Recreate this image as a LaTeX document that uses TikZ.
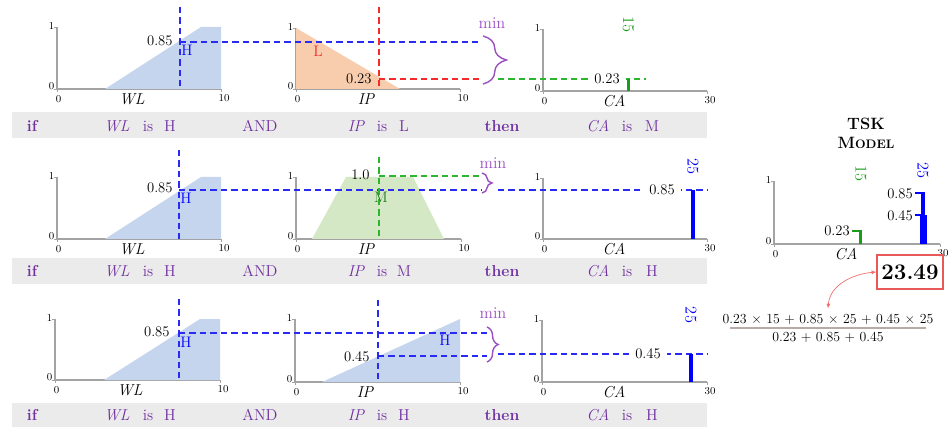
\documentclass[tikz,border=0pt]{standalone}
\usepackage{fontspec}
\usetikzlibrary{decorations.pathreplacing,arrows.meta}
\definecolor{axg}{HTML}{A3A3A3}
\definecolor{dblue}{HTML}{2A2AF5}
\definecolor{bblue}{HTML}{0000FF}
\definecolor{dred}{HTML}{F52A2A}
\definecolor{dgreen}{HTML}{2DB52D}
\definecolor{bgreen}{HTML}{1C9C1C}
\definecolor{tgreen}{HTML}{237A23}
\definecolor{fblue}{HTML}{C6D5EE}
\definecolor{forange}{HTML}{F8CDAD}
\definecolor{fgreen}{HTML}{D4E8C6}
\definecolor{purp}{HTML}{7030A0}
\definecolor{mpurp}{HTML}{9A50C2}
\definecolor{bandc}{HTML}{EBEBEB}
\definecolor{fracbar}{HTML}{B8ABA6}
\definecolor{boxred}{HTML}{E85A5A}
\definecolor{arrred}{HTML}{F07070}
\tikzset{
  axisline/.style={draw=axg,line width=1.1pt},
  ticklab/.style={font=\fontsize{9}{9}\selectfont, inner sep=0.5pt},
  axlab/.style={font=\itshape\fontsize{13.5}{14}\selectfont, inner sep=0.5pt},
  dline/.style={line width=1.3pt, dash pattern=on 5.5pt off 3.4pt},
  val/.style={font=\fontsize{12.5}{13}\selectfont, inner sep=1pt},
  gapval/.style={val, fill=white, inner xsep=5pt, inner ysep=1pt},
  mfl/.style={font=\fontsize{13}{13}\selectfont, inner sep=0.5pt},
  rt/.style={font=\fontsize{13.5}{14}\selectfont, text=purp, inner sep=0.5pt},
  rtb/.style={rt, font=\bfseries\fontsize{13.5}{14}\selectfont},
  rti/.style={rt, font=\itshape\fontsize{13.5}{14}\selectfont},
  minlab/.style={font=\fontsize{14}{14}\selectfont, text=mpurp, inner sep=0.5pt},
  bracel/.style={draw=mpurp, line width=1.2pt, decorate},
  rotv/.style={font=\fontsize{14}{14}\selectfont, rotate=-90, inner sep=0.5pt},
}
% #1 x0, #2 ytop, #3 x1, #4 ybot, #5 max label, #6 axis label, #7 label x, #8 name prefix
\newcommand\fzaxes[8]{%
  \draw[axisline] (#1,#2) -- (#1,#4) -- (#3,#4);
  \draw[axg,line width=0.7pt] (#1-3,#2) -- (#1,#2) (#1-3,#4) -- (#1,#4) (#1,#4) -- (#1,#4+3) (#3,#4) -- (#3,#4+3);
  \node[ticklab,anchor=east] (#8-one) at (#1-2,#2-1.5) {1};
  \node[ticklab,anchor=east] (#8-zero) at (#1-2,#4-2.5) {0};
  \node[ticklab] (#8-xmin) at (#1+1.5,#4+10) {0};
  \node[ticklab] (#8-xmax) at (#3+3,#4+9.5) {#5};
  \node[axlab] (#8-lab) at (#7,#4+10.5) {#6};
}
% rule band text: #1 y, #2 WL term, #3 IP term, #4 CA term, #5 prefix
\newcommand\ruletext[5]{%
  \node[rtb] (#5-if) at (32,#1) {if};
  \node[rti] (#5-wl) at (117,#1) {WL};
  \node[rt] (#5-is1) at (148,#1) {is};
  \node[rt] (#5-t1) at (170,#1) {#2};
  \node[rt] (#5-and) at (260,#1) {AND};
  \node[rti] (#5-ip) at (356,#1) {IP};
  \node[rt] (#5-is2) at (382,#1) {is};
  \node[rt] (#5-t2) at (404,#1) {#3};
  \node[rtb] (#5-then) at (502,#1) {then};
  \node[rti] (#5-ca) at (598,#1) {CA};
  \node[rt] (#5-is3) at (627,#1) {is};
  \node[rt] (#5-t3) at (652,#1) {#4};
}
\begin{document}
\begin{tikzpicture}[x=0.03cm,y=-0.03cm]
\useasboundingbox (0,0) rectangle (948,427);

% ---------- rule bands ----------
\fill[bandc] (12,112) rectangle (707,138);
\fill[bandc] (12,258) rectangle (707,284);
\fill[bandc] (12,403) rectangle (707,427);
\ruletext{126}{H}{L}{M}{r1}
\ruletext{271}{H}{M}{H}{r2}
\ruletext{415}{H}{H}{H}{r3}

% ================= ROW 1 =================
\fzaxes{57}{27}{221}{89}{10}{WL}{132}{a1}
\fill[fblue] (105,89) -- (201,27) -- (221,27) -- (221,89) -- cycle;
\fzaxes{296}{28}{460}{89}{10}{IP}{366}{b1}
\fill[forange] (296,28) -- (400,89) -- (296,89) -- cycle;
\fzaxes{543}{29}{707}{91}{30}{CA}{614}{c1}

\draw[dblue,dline] (180,7) -- (180,89);
\draw[dblue,dline] (180,42) -- (482,42);
\draw[dred,dline] (379,7) -- (379,89);
\draw[dred,dline] (379,79) -- (482,79);
\node[val,anchor=east] (a1v) at (174,41) {0.85};
\node[mfl,text=bblue] (a1m) at (187,50) {H};
\node[val,anchor=east] (b1v) at (373,79) {0.23};
\node[mfl,text=dred] (b1m) at (318,51) {L};
\draw[bracel,decoration={brace,amplitude=20pt}] (483,36) -- (483,84);
\node[minlab] (min1) at (492,23) {min};
\draw[dgreen,dline] (498,79) -- (646,79);
\node[gapval] (c1v) at (607,79) {0.23};
\draw[bgreen,line width=2.8pt] (628.5,79) -- (628.5,91);
\node[rotv,text=bgreen] (c1r) at (628.5,25) {15};

% ================= ROW 2 =================
\fzaxes{57}{177}{221}{239}{10}{WL}{132}{a2}
\fill[fblue] (105,239) -- (201,177) -- (221,177) -- (221,239) -- cycle;
\fzaxes{296}{177}{461}{239}{10}{IP}{366}{b2}
\fill[fgreen] (312,239) -- (346,177) -- (413,177) -- (444,239) -- cycle;
\fzaxes{543}{178}{707}{239}{30}{CA}{614}{c2}

\draw[dblue,dline] (179,150) -- (179,239);
\draw[dblue,dline] (179,190) -- (482,190);
\draw[dgreen,dline] (379,157) -- (379,239);
\draw[dgreen,dline] (379,176) -- (482,176);
\node[val,anchor=east] (a2v) at (174,188) {0.85};
\node[mfl,text=bblue] (a2m) at (186,198) {H};
\node[val,anchor=east] (b2v) at (371,175) {1.0};
\node[mfl,text=tgreen] (b2m) at (381,197) {M};
\draw[bracel,decoration={brace,amplitude=8.5pt}] (482,173) -- (482,193);
\node[minlab] (min2) at (493,163) {min};
\draw[dblue,dline] (498,190) -- (707,190);
\node[gapval] (c2v) at (662,190) {0.85};
\draw[bblue,line width=3.4pt] (693,190) -- (693,239);
\node[rotv,text=bblue] (c2r) at (693,167) {25};

% ================= ROW 3 =================
\fzaxes{55}{319}{220}{380}{10}{WL}{130}{a3}
\fill[fblue] (104,380) -- (200,319) -- (220,319) -- (220,380) -- cycle;
\fzaxes{295}{319}{460}{382}{10}{IP}{365}{b3}
\fill[fblue] (322,382) -- (460,319) -- (460,382) -- cycle;
\fzaxes{542}{320}{707}{382}{30}{CA}{614}{c3}

\draw[dblue,dline] (179,299) -- (179,380);
\draw[dblue,dline] (179,333) -- (487,333);
\draw[dblue,dline] (378,300) -- (378,382);
\draw[dblue,dline] (378,356) -- (487,356);
\node[val,anchor=east] (a3v) at (171,332) {0.85};
\node[mfl,text=bblue] (a3m) at (186,342) {H};
\node[val,anchor=east] (b3v) at (371,357) {0.45};
\node[mfl,text=bblue] (b3m) at (445,340) {H};
\draw[bracel,decoration={brace,amplitude=9.5pt}] (487,327) -- (487,362);
\node[minlab] (min3) at (493,313) {min};
\draw[dblue,dline] (498,354) -- (707,354);
\node[gapval] (c3v) at (648,354) {0.45};
\draw[bblue,line width=3.4pt] (691,354) -- (691,382);
\node[rotv,text=bblue] (c3r) at (691,315) {25};

% ================= TSK MODEL =================
\node[font=\bfseries\fontsize{14}{14}\selectfont, inner sep=0.5pt] (tsk) at (866,124) {TSK};
\node[font=\bfseries\fontsize{14}{14}\selectfont, inner sep=0.5pt] (model) at (866,143) {M{\fontsize{10.5}{11}\selectfont ODEL}};
\fzaxes{774}{181}{940}{244}{30}{CA}{846}{t}
\node[rotv,text=bgreen] (t15) at (861,174) {15};
\node[rotv,text=bblue] (t25) at (923,171) {25};
\draw[bgreen,line width=1.3pt] (852,231) -- (861,231);
\draw[bgreen,line width=3.2pt] (860.5,230.5) -- (860.5,244);
\node[val] (tv1) at (837,231) {0.23};
\draw[bblue,line width=1.3pt] (915,193) -- (924,193);
\draw[bblue,line width=1.3pt] (915,215) -- (921,215);
\draw[bblue,line width=3.2pt] (923,192.5) -- (923,244);
\draw[bblue,line width=6pt] (923.5,215) -- (923.5,244);
\node[val] (tv2) at (900,194) {0.85};
\node[val] (tv3) at (900,216) {0.45};

% result and formula
\node[draw=boxred, line width=1.2pt, minimum width=1.98cm, minimum height=1.02cm, inner sep=0pt,
      font=\bfseries\fontsize{19}{20}\selectfont] (res) at (910,272) {23.49};
\node[font=\fontsize{11.8}{12}\selectfont, inner sep=1pt] (num) at (828,319) {0.23 × 15 + 0.85 × 25 + 0.45 × 25};
\node[font=\fontsize{11.8}{12}\selectfont, inner sep=1pt] (den) at (828,337.5) {0.23 + 0.85 + 0.45};
\coordinate (fbl) at (730,328);
\coordinate (fbr) at (926,328);
\draw[fracbar,line width=1.3pt] (fbl) -- (fbr);
\draw[arrred,line width=0.6pt,{Latex[length=4pt,width=3.5pt]}-{Latex[length=4pt,width=3.5pt]}]
  ([yshift=0.12cm]num.north) to[out=85,in=185] (res.west);
\end{tikzpicture}
\end{document}
